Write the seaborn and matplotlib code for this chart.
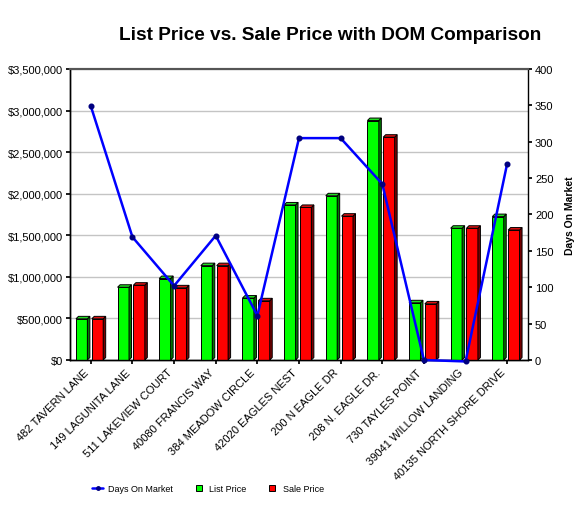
import numpy as np
import pandas as pd
import matplotlib
matplotlib.use("Agg")
import matplotlib.pyplot as plt
from matplotlib.patches import Polygon
from matplotlib.lines import Line2D
from matplotlib.ticker import FuncFormatter
import seaborn as sns

# ---------------- data ----------------
addresses = ["482 TAVERN LANE", "149 LAGUNITA LANE", "511 LAKEVIEW COURT",
             "40080 FRANCIS WAY", "384 MEADOW CIRCLE", "42020 EAGLES NEST",
             "200 N EAGLE DR", "208 N. EAGLE DR.", "730 TAYLES POINT",
             "39041 WILLOW LANDING", "40135 NORTH SHORE DRIVE"]
list_price = [495000, 875000, 980000, 1135000, 745000, 1865000,
              1975000, 2880000, 688000, 1585000, 1725000]
sale_price = [495000, 900000, 868000, 1135000, 712000, 1835000,
              1730000, 2680000, 675000, 1585000, 1563000]
days_on_market = [349, 169, 102, 171, 61, 305, 305, 242, 0, -2, 270]
price_ticks = [0, 500000, 1000000, 1500000, 2000000, 2500000, 3000000, 3500000]
dom_ticks = [0, 50, 100, 150, 200, 250, 300, 350, 400]

title = "List Price vs. Sale Price with DOM Comparison"

# ---------------- style ----------------
sns.set_theme(style="white")
plt.rcParams["font.family"] = ["Liberation Sans", "DejaVu Sans"]
plt.rcParams["text.color"] = "black"
plt.rcParams["axes.labelcolor"] = "black"
plt.rcParams["xtick.color"] = "black"
plt.rcParams["ytick.color"] = "black"

fig = plt.figure(figsize=(5.84, 5.10), dpi=100)
ax = fig.add_axes([70 / 584, 149 / 510, 458 / 584, 291 / 510])

df = pd.DataFrame({
    "address": addresses * 2,
    "price": list_price + sale_price,
    "type": ["List Price"] * len(addresses) + ["Sale Price"] * len(addresses),
})
palette = {"List Price": "#00FF00", "Sale Price": "#FF0000"}
sns.barplot(data=df, x="address", y="price", hue="type", order=addresses,
            hue_order=["List Price", "Sale Price"], palette=palette,
            width=0.76, gap=0.12, edgecolor="black", linewidth=0.7,
            saturation=1, ax=ax, legend=False, zorder=3)

# pseudo-3D faces derived from bar geometry
dx = 0.06
dy = 30000
side_col = {"#00FF00": "#007a00", "#FF0000": "#7a0000"}
top_col = {"#00FF00": "#22dd22", "#FF0000": "#dd1111"}
for p in list(ax.patches):
    w = p.get_width()
    if w <= 0:
        continue
    x0 = p.get_x()
    h = p.get_height()
    fc = matplotlib.colors.to_hex(p.get_facecolor()).upper()
    wf = w - dx
    p.set_width(wf)
    x1 = x0 + wf
    key = "#00FF00" if fc == "#00FF00" else "#FF0000"
    side = Polygon([(x1, 0), (x1 + dx, dy), (x1 + dx, h + dy), (x1, h)],
                   closed=True, facecolor=side_col[key], edgecolor="black",
                   linewidth=0.7, zorder=3)
    top = Polygon([(x0, h), (x0 + dx, h + dy), (x1 + dx, h + dy), (x1, h)],
                  closed=True, facecolor=top_col[key], edgecolor="black",
                  linewidth=0.7, zorder=3)
    ax.add_patch(side)
    ax.add_patch(top)

ax.set_ylim(0, 3500000)
ax.set_yticks(price_ticks)
ax.yaxis.set_major_formatter(FuncFormatter(lambda v, _: f"${v:,.0f}"))
ax.yaxis.grid(True, color="#c4c4c4", linewidth=1)
ax.xaxis.grid(False)
ax.set_axisbelow(True)
ax.set_xlabel("")
ax.set_ylabel("")
ax.set_xlim(-0.5, len(addresses) - 0.5)
ax.tick_params(axis="y", labelsize=8, length=3, direction="out", left=True,
               pad=2, colors="black")
ax.tick_params(axis="x", labelsize=8, length=3, direction="out", bottom=True,
               pad=2, colors="black")
ax.set_xticks(range(len(addresses)))
ax.set_xticklabels(addresses, rotation=45, ha="right", rotation_mode="default")

# DOM line on twin axis
ax2 = ax.twinx()
sns.pointplot(x=addresses, y=days_on_market, order=addresses, color="#0000FF",
              markers="o", ax=ax2, linewidth=1.8, markersize=3,
              markerfacecolor="#000080", markeredgecolor="#000080", zorder=5)
for ln in ax2.lines:
    ln.set_clip_on(False)
ax2.set_xlim(-0.5, len(addresses) - 0.5)
ax2.set_ylim(0, 400)
ax2.set_yticks(dom_ticks)
ax2.tick_params(axis="y", labelsize=8, length=3, direction="out", right=True,
                pad=2, colors="black")
ax2.set_ylabel("Days On Market", fontsize=7.5, fontweight="bold", labelpad=8,
               color="black")
ax2.grid(False)

for a in (ax, ax2):
    for s in ("left", "right", "bottom"):
        a.spines[s].set_color("black")
        a.spines[s].set_linewidth(1)
    a.spines["top"].set_color("#555555")
    a.spines["top"].set_linewidth(1.5)
ax.spines["right"].set_visible(False)

fig.text(330 / 584, 1 - 36 / 510, title, ha="center", va="center",
         fontsize=13.7, fontweight="bold", color="black")

handles = [
    Line2D([], [], color="#0000FF", linewidth=1.8, marker="o", markersize=2.5,
           markerfacecolor="#000080", markeredgecolor="#000080"),
    Line2D([], [], linestyle="none", marker="s", markersize=4,
           markerfacecolor="#00FF00", markeredgecolor="black", markeredgewidth=0.7),
    Line2D([], [], linestyle="none", marker="s", markersize=4,
           markerfacecolor="#FF0000", markeredgecolor="black", markeredgewidth=0.7),
]
leg = fig.legend(handles, ["Days On Market", "List Price", "Sale Price"],
                 loc="center", bbox_to_anchor=(208 / 584, 1 - 490 / 510), ncol=3,
                 frameon=False, fontsize=6.5, handlelength=1.2, handletextpad=0.6,
                 columnspacing=2.2)
for t in leg.get_texts():
    t.set_color("black")

fig.savefig("out.png", dpi=100)
